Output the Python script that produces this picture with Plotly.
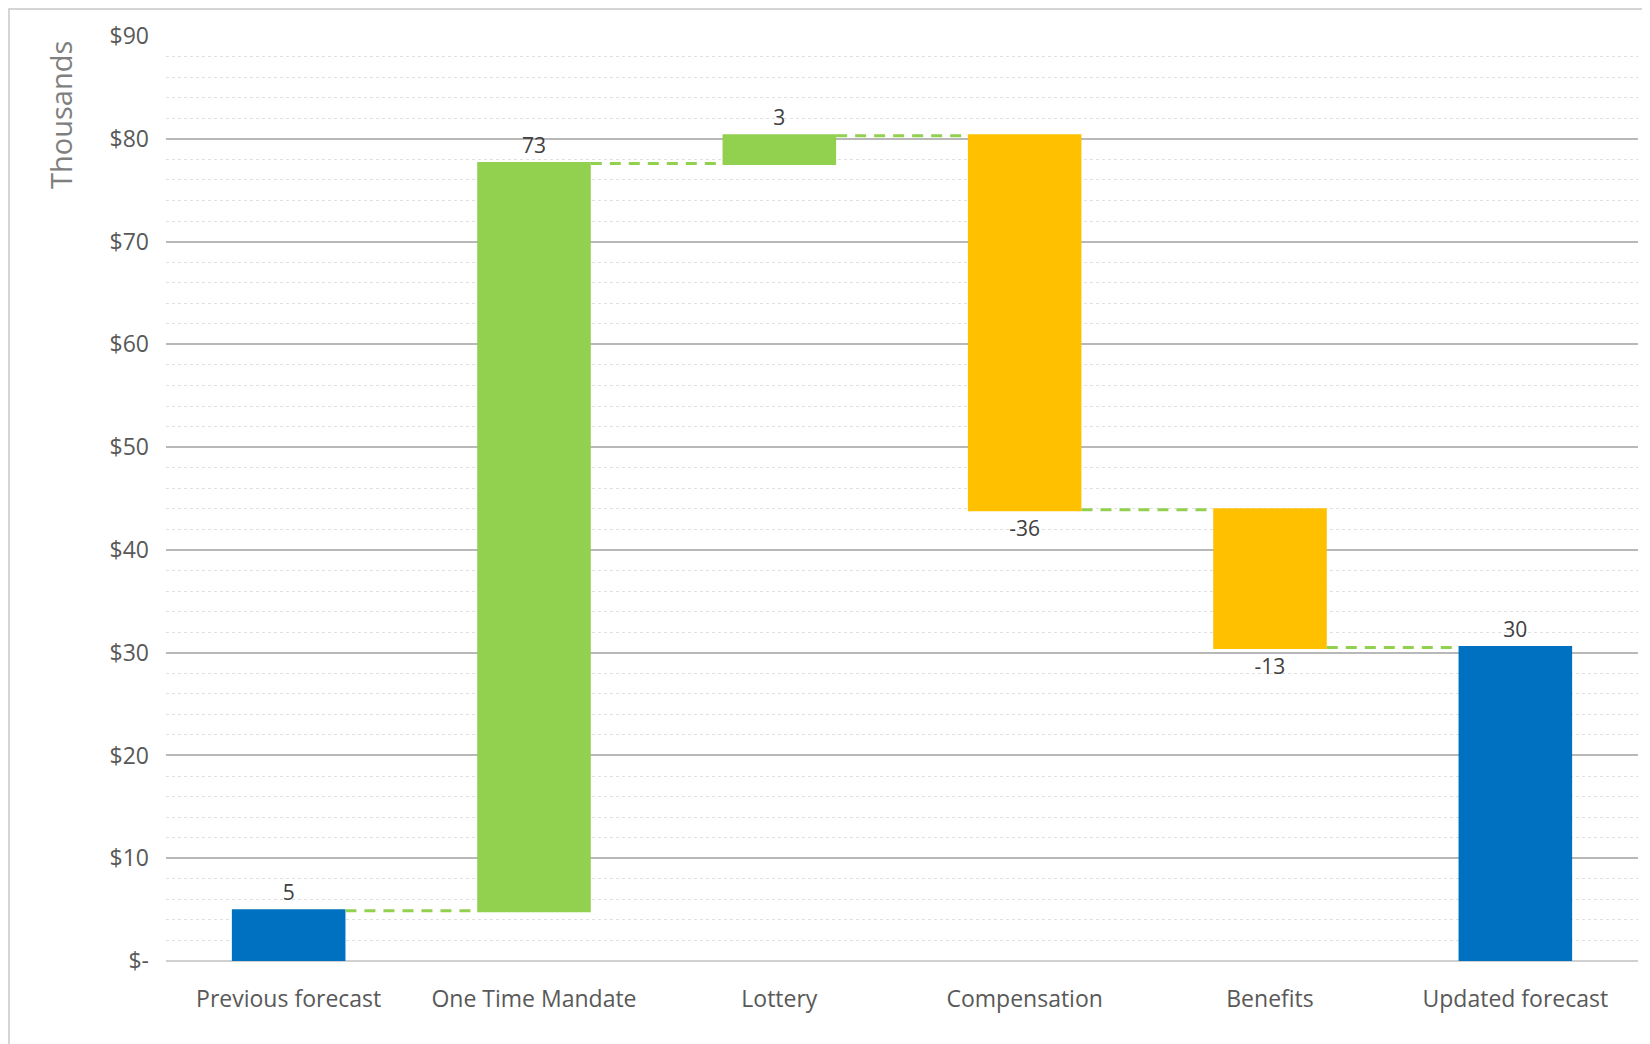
import plotly.graph_objects as go

categories = ["Previous forecast", "One Time Mandate", "Lottery", "Compensation", "Benefits", "Updated forecast"]
values = [4.9, 72.7, 2.7, -36.4, -13.4, 30.5]
measures = ["absolute", "relative", "relative", "relative", "relative", "total"]
labels = ["5", "73", "3", "-36", "-13", "30"]
tick_vals = [0, 10, 20, 30, 40, 50, 60, 70, 80, 90]
tick_text = ["$-", "$10", "$20", "$30", "$40", "$50", "$60", "$70", "$80", "$90"]

BLUE = "#0070C0"
GREEN = "#92D050"
ORANGE = "#FFC000"
FONT = "Open Sans"

L, R, T, B = 158, 12, 28, 83
W, H = 1642, 1036
PW = W - L - R
PH = H - T - B

fig = go.Figure(go.Waterfall(
    x=categories,
    y=values,
    measure=measures,
    text=labels,
    textposition="outside",
    textfont=dict(family=FONT, size=21, color="#404040"),
    cliponaxis=False,
    increasing=dict(marker=dict(color=GREEN)),
    decreasing=dict(marker=dict(color=ORANGE)),
    totals=dict(marker=dict(color=BLUE)),
    connector=dict(mode="between", line=dict(color=GREEN, width=3, dash="11px,8px")),
    width=0.463,
    hoverinfo="x+y",
))

fig.update_layout(
    width=W,
    height=H,
    margin=dict(l=L, r=R, t=T, b=B),
    paper_bgcolor="white",
    plot_bgcolor="white",
    showlegend=False,
    font=dict(family=FONT, color="#595959"),
    xaxis=dict(
        showgrid=False,
        showline=False,
        zeroline=False,
        ticks="",
        tickfont=dict(family=FONT, size=23, color="#595959"),
        ticklabelstandoff=22,
    ),
    yaxis=dict(
        range=[0, 90],
        tickvals=tick_vals,
        ticktext=tick_text,
        showgrid=True,
        gridcolor="#B8B8B8",
        gridwidth=1.5,
        zeroline=True,
        zerolinecolor="#D0D0D0",
        zerolinewidth=2,
        showline=False,
        ticks="",
        tickfont=dict(family=FONT, size=23, color="#595959"),
        ticklabelstandoff=16,
        minor=dict(dtick=2, showgrid=True, gridcolor="#E0E0E0", griddash="dot", gridwidth=1),
    ),
    annotations=[dict(
        text="Thousands", textangle=-90, showarrow=False,
        xref="paper", yref="paper",
        x=(53 - L) / PW, y=1 - 3 / PH, xanchor="center", yanchor="top",
        font=dict(family=FONT, size=29, color="#7F7F7F"),
    )],
    shapes=[dict(type="rect", xref="paper", yref="paper",
                 x0=-(L - 1) / PW, x1=1.2, y0=-0.2, y1=1 + (T - 1) / PH,
                 line=dict(color="#C8C8C8", width=1.5), layer="below")],
)

fig.write_html("out.html")
